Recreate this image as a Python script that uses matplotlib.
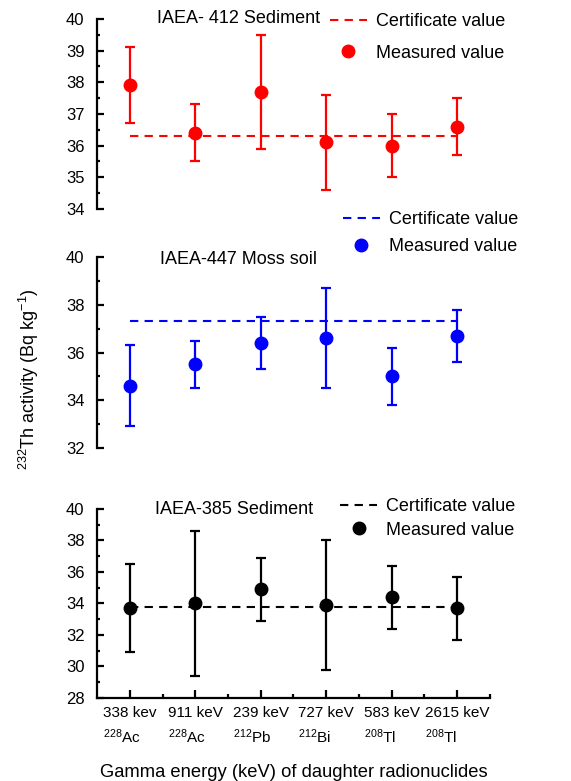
import matplotlib
matplotlib.use('Agg')
import matplotlib.pyplot as plt
from matplotlib.ticker import MultipleLocator

plt.rcParams['font.family'] = ['Liberation Sans', 'DejaVu Sans']
plt.rcParams['mathtext.fontset'] = 'custom'
plt.rcParams['mathtext.rm'] = 'Liberation Sans'
plt.rcParams['mathtext.it'] = 'Liberation Sans'

positions = [1, 2, 3, 4, 5, 6]
tick_labels = ['338 kev\n$^{228}$Ac', '911 keV\n$^{228}$Ac', '239 keV\n$^{212}$Pb',
               '727 keV\n$^{212}$Bi', '583 keV\n$^{208}$Tl', '2615 keV\n$^{208}$Tl']

# IAEA-412 Sediment
iaea412 = [37.9, 36.4, 37.7, 36.1, 36.0, 36.6]
iaea412_err = [1.2, 0.9, 1.8, 1.5, 1.0, 0.9]
iaea412_cert = 36.3

# IAEA-447 Moss soil
iaea447 = [34.6, 35.5, 36.4, 36.6, 35.0, 36.7]
iaea447_err = [1.7, 1.0, 1.1, 2.1, 1.2, 1.1]
iaea447_cert = 37.3

# IAEA-385 Sediment
iaea385 = [33.7, 34.0, 34.9, 33.9, 34.4, 33.7]
iaea385_err = [2.8, 4.6, 2.0, 4.1, 2.0, 2.0]
iaea385_cert = 33.8

fig = plt.figure(figsize=(5.71, 7.81), dpi=100)

panels = [
    # values, errors, cert, color, ylim, major, minor, axes rect, title pos, title, legend anchor, spacing
    (iaea412, iaea412_err, iaea412_cert, 'red', (34, 40), 1, 0.5,
     [0.170, 0.7324, 0.688, 0.2433], (0.361, 1.0), 'IAEA- 412 Sediment', (0.565, 0.992), 0.79),
    (iaea447, iaea447_err, iaea447_cert, 'blue', (32, 40), 2, 1,
     [0.170, 0.4264, 0.688, 0.2445], (0.359, 0.985), 'IAEA-447 Moss soil', (0.588, 0.739), 0.56),
    (iaea385, iaea385_err, iaea385_cert, 'black', (28, 40), 2, 1,
     [0.170, 0.1063, 0.688, 0.2420], (0.349, 0.995), 'IAEA-385 Sediment', (0.583, 0.371), 0.34),
]

for i, (vals, errs, cert, col, ylim, maj, mnr, rect, tpos, title, anchor, lsp) in enumerate(panels):
    ax = fig.add_axes(rect)
    cl, = ax.plot([positions[0], positions[-1]], [cert, cert], ls=(0, (4, 3)),
                  color=col, lw=1.5, label='Certificate value')
    ax.errorbar(positions, vals, yerr=errs, fmt='o', color=col, ms=9,
                elinewidth=1.6, capsize=3.5, capthick=1.6)
    mk, = ax.plot([], [], 'o', color=col, ms=9, label='Measured value')
    ax.set_xlim(0.5, 6.5)
    ax.set_ylim(*ylim)
    ax.yaxis.set_major_locator(MultipleLocator(maj))
    ax.yaxis.set_minor_locator(MultipleLocator(mnr))
    for s in ['top', 'right']:
        ax.spines[s].set_visible(False)
    ax.spines['left'].set_linewidth(1.6)
    ax.spines['bottom'].set_linewidth(1.6)
    ax.tick_params(axis='y', which='major', direction='in', length=5, width=1.6,
                   labelsize=12, pad=9)
    ax.tick_params(axis='y', which='minor', direction='in', length=2.5, width=1.6)
    ax.text(tpos[0], tpos[1], title, transform=ax.transAxes, ha='center', va='center',
            fontsize=13)
    if i < 2:
        ax.spines['bottom'].set_visible(False)
        ax.set_xticks([])
    else:
        ax.set_xticks(positions)
        ax.set_xticklabels(tick_labels, fontsize=11, linespacing=1.45,
                           multialignment='left')
        ax.set_xticks([1.5, 2.5, 3.5, 4.5, 5.5, 6.5], minor=True)
        ax.tick_params(axis='x', which='major', direction='in', length=6, width=1.6, pad=6)
        ax.tick_params(axis='x', which='minor', direction='in', length=3, width=1.6)
        ax.set_xlabel('Gamma energy (keV) of daughter radionuclides', fontsize=13.2,
                      labelpad=13)
    ax.legend(handles=[cl, mk], loc='upper left', bbox_to_anchor=anchor,
              bbox_transform=fig.transFigure, frameon=False, fontsize=13,
              handlelength=2.05, handletextpad=0.5, labelspacing=lsp,
              borderaxespad=0)

fig.text(0.05, 0.515, '$^{232}$Th activity (Bq kg$^{-1}$)', rotation=90,
         ha='center', va='center', fontsize=13)

fig.savefig('out.png', dpi=100)
